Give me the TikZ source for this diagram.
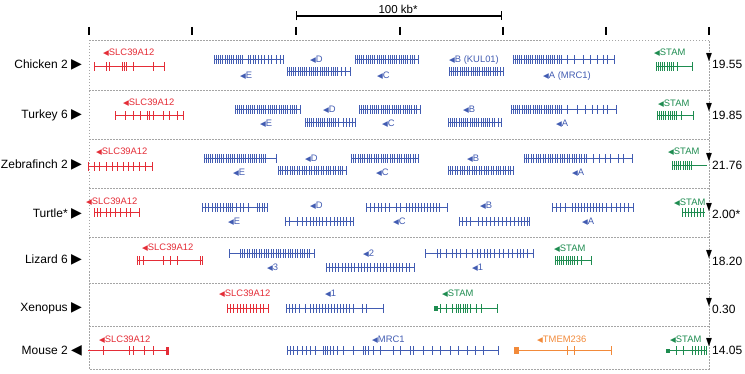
\documentclass[tikz,border=0pt]{standalone}
\usepackage{fontspec}
\setmainfont{Liberation Sans}
\newfontfamily\symf{DejaVu Sans}
\usetikzlibrary{arrows.meta,positioning}
\definecolor{genered}{RGB}{228,45,55}
\definecolor{geneblue}{RGB}{66,92,178}
\definecolor{genegreen}{RGB}{30,140,80}
\definecolor{geneorange}{RGB}{242,138,58}
\definecolor{boxgray}{RGB}{165,165,165}

% one gene: style, y, start, end, exon positions
\newcommand{\genebar}[5]{%
  \draw[#1] (#3,#2) -- (#4,#2);
  \draw[#1,exon] \foreach \ex in {#5} {(\ex,#2-4.5) -- (\ex,#2+4.5)};}
\newcommand{\lt}{{\symf\fontsize{7.5}{7.5}\selectfont◀}}
\newcommand{\rt}{{\symf\fontsize{14}{14}\selectfont▶}}

\begin{document}
\begin{tikzpicture}[x=1pt,y=-1pt,
  species/.style={font=\fontsize{12}{14}\selectfont,anchor=east,inner sep=0pt},
  glabel/.style={font=\fontsize{9.4}{10}\selectfont,anchor=west,inner sep=0pt},
  chrnum/.style={font=\fontsize{12}{14}\selectfont,anchor=west,inner sep=0pt},
  downtri/.style={font=\symf\fontsize{11}{11}\selectfont,inner sep=0pt,xscale=0.7},
  slc/.style={genered,line width=1pt},
  blu/.style={geneblue,line width=1pt},
  grn/.style={genegreen,line width=1pt},
  org/.style={geneorange,line width=1pt},
  exon/.style={line width=0.7pt},
  sep/.style={boxgray,line width=0.6pt,dash pattern=on 1.5pt off 1.5pt}]
\useasboundingbox (0,0) rectangle (745,374);

% ruler and scale bar
\foreach \xx in {89,192,296,400,503,606,709} \draw[line width=1.4pt] (\xx,27) -- (\xx,35);
\coordinate (kbL) at (296,16);
\coordinate (kbR) at (502,16);
\draw[line width=1.1pt,{Bar[width=9pt]}-{Bar[width=9pt]}] (kbL) -- (kbR);
\node[font=\fontsize{11.5}{13}\selectfont,inner sep=0pt] (kb) at (398,9) {100 kb*};

% frame
\draw[sep] (89,40) rectangle (709,369);
\foreach \yy in {90,139,188,237,283,326} \draw[sep] (89,\yy) -- (709,\yy);

% species
\node[species] (chicken) at (82,65) {Chicken 2 \rt};
\node[species] (turkey) at (82,115) {Turkey 6 \rt};
\node[species] (zfinch) at (82,165) {Zebrafinch 2 \rt};
\node[species] (turtle) at (82,214) {Turtle* \rt};
\node[species] (lizard) at (82,260) {Lizard 6 \rt};
\node[species] (xenopus) at (82,308) {Xenopus \rt};
\node[species] (mouse) at (82,351) {Mouse 2 {\symf\fontsize{14}{14}\selectfont◀}};

% chromosome positions
\node[downtri] (t1) at (709,58) {▼}; \node[chrnum] (n1) at (712,64) {19.55};
\node[downtri] (t2) at (709,108) {▼}; \node[chrnum] (n2) at (712,115) {19.85};
\node[downtri] (t3) at (709,158) {▼}; \node[chrnum] (n3) at (712,165) {21.76};
\node[downtri] (t4) at (709,208) {▼}; \node[chrnum] (n4) at (712,214) {2.00*};
\node[downtri] (t5) at (709,255) {▼}; \node[chrnum] (n5) at (712,261) {18.20};
\node[downtri] (t6) at (709,303) {▼}; \node[chrnum] (n6) at (712,309) {0.30};
\node[downtri] (t7) at (709,343) {▼}; \node[chrnum] (n7) at (712,350) {14.05};

% chicken
\genebar{slc}{67}{94}{164}{94,106,109,122,124.3,126.6,133,153,164}
\genebar{blu}{60}{214}{283}{214,216.2,...,244,248,250,253,255,258,261,264,268,271,276,280,283}
\genebar{blu}{72}{287}{350}{287,289.2,...,338,341,345,350}
\genebar{blu}{60}{355}{418}{355,357.2,...,416,418}
\genebar{blu}{72}{449}{503}{449,451.2,...,498,500,503}
\genebar{blu}{60}{513}{614}{513,515.2,...,562,567,574,583,590,597,603,607,614}
\genebar{grn}{67}{656}{692}{656,658.2,...,674,677,692}
\node[glabel,genered] (c-slc) at (103,53) {\lt SLC39A12};
\node[glabel,geneblue] (c-e) at (240,76) {\lt E};
\node[glabel,geneblue] (c-d) at (310,60) {\lt D};
\node[glabel,geneblue] (c-c) at (377,76) {\lt C};
\node[glabel,geneblue] (c-b) at (449,60) {\lt B (KUL01)};
\node[glabel,geneblue] (c-a) at (543,76) {\lt A (MRC1)};
\node[glabel,genegreen] (c-stam) at (654,53) {\lt STAM};

% turkey
\genebar{slc}{116}{115}{183}{115,125,133,140,147,149.5,153,163,169,177,183}
\genebar{blu}{110}{235}{300}{235,237.2,...,298,300}
\genebar{blu}{123}{305}{355}{305,307.2,...,340,343,346,349,352,355}
\genebar{blu}{110}{359}{420}{359,361.2,...,418,420}
\genebar{blu}{123}{448}{501}{448,450.2,...,496,498,501}
\genebar{blu}{110}{511}{616}{511,513.2,...,562,567,577,585,592,597,603,607,616}
\genebar{grn}{116}{657}{693}{657,659.2,...,678,681,693}
\node[glabel,genered] (t-slc) at (123,103) {\lt SLC39A12};
\node[glabel,geneblue] (t-e) at (260,124) {\lt E};
\node[glabel,geneblue] (t-d) at (323,110) {\lt D};
\node[glabel,geneblue] (t-c) at (382,124) {\lt C};
\node[glabel,geneblue] (t-b) at (463,110) {\lt B};
\node[glabel,geneblue] (t-a) at (556,124) {\lt A};
\node[glabel,genegreen] (t-stam) at (658,104) {\lt STAM};

% zebrafinch
\genebar{slc}{167}{88}{152}{88,94,99,106,112,117,123,128,133,139,145,152}
\genebar{blu}{159}{204}{276}{204,206.2,...,266,276}
\genebar{blu}{171}{278}{346}{278,280.4,...,344,346}
\genebar{blu}{159}{351}{418}{351,353.3,...,416,418}
\genebar{blu}{171}{448}{513}{448,450.4,...,511,513}
\genebar{blu}{159}{524}{632}{524,526.4,...,587,593,599,605,610,618,623,632}
\genebar{grn}{166}{672}{707}{672,674.2,...,692}
\node[glabel,genered] (z-slc) at (96,152) {\lt SLC39A12};
\node[glabel,geneblue] (z-e) at (233,173) {\lt E};
\node[glabel,geneblue] (z-d) at (305,159) {\lt D};
\node[glabel,geneblue] (z-c) at (376,173) {\lt C};
\node[glabel,geneblue] (z-b) at (467,159) {\lt B};
\node[glabel,geneblue] (z-a) at (572,173) {\lt A};
\node[glabel,genegreen] (z-stam) at (668,152) {\lt STAM};

% turtle
\genebar{slc}{213}{94}{139}{94,97,100,106,110,115,120,126,130,139}
\genebar{blu}{208}{202}{267}{202,205,208,212,215,217,220,223,226,228,230,232,236,240,243,248,257,259.5,262,264.5,267}
\genebar{blu}{222}{285}{353}{285,289,297,302,306,310,313,316,319,322,326,330,334,337,340,343,346,350,353}
\genebar{blu}{208}{366}{447}{366,370,374,378,381,385,389,396,400,406,409,412,415,418,421,424,427,430,433,436,439,447}
\genebar{blu}{222}{459}{529}{459,462,466,470,478,482,486,490,494,498,502,506,510,514,518,521,524,527,529}
\genebar{blu}{208}{552}{633}{552,556,560,565,572,575,578,581,584,587,590,593,596,599,602,606,611,616,620,624,628,633}
\genebar{grn}{213}{682}{705}{682,685,688,691,694,697,700,703}
\node[glabel,genered] (u-slc) at (86,202) {\lt SLC39A12};
\node[glabel,geneblue] (u-e) at (228,222) {\lt E};
\node[glabel,geneblue] (u-d) at (310,206) {\lt D};
\node[glabel,geneblue] (u-c) at (393,222) {\lt C};
\node[glabel,geneblue] (u-b) at (480,206) {\lt B};
\node[glabel,geneblue] (u-a) at (582,222) {\lt A};
\node[glabel,genegreen] (u-stam) at (674,203) {\lt STAM};

% lizard
\genebar{slc}{261}{137}{202}{137,139,143,163,170,177,200,202}
\genebar{blu}{254}{229}{314}{229,240,242.4,...,310,314}
\genebar{blu}{268}{326}{414}{326,329.2,...,410,414}
\genebar{blu}{254}{425}{533}{425,437,440,446,452,456,460,466,472,477,480,484,487,490,494,499,503,508,512,517,520,523,527,533}
\genebar{grn}{261}{555}{591}{555,557.2,...,575,577,581,591}
\node[glabel,genered] (l-slc) at (142,248) {\lt SLC39A12};
\node[glabel,geneblue] (l-3) at (267,268) {\lt 3};
\node[glabel,geneblue] (l-2) at (363,254) {\lt 2};
\node[glabel,geneblue] (l-1) at (472,268) {\lt 1};
\node[glabel,genegreen] (l-stam) at (554,249) {\lt STAM};

% xenopus
\genebar{slc}{309}{227}{268}{227,230.3,...,264,268}
\genebar{blu}{309}{286}{383}{286,289,292,295,299,305,310,313,316,319,322,325,328,331,334,337,340,343,346,349,353,362,366,383}
\genebar{grn}{309}{434}{497}{440,446,452,456,458.3,460.6,462.9,465.2,467.5,470,476,481,497}
\fill[genegreen] (434,306.5) rectangle (438,311.5);
\node[glabel,genered] (x-slc) at (219,294) {\lt SLC39A12};
\node[glabel,geneblue] (x-1) at (325,294) {\lt 1};
\node[glabel,genegreen] (x-stam) at (442,294) {\lt STAM};

% mouse
\genebar{slc}{351}{88}{169}{103,129,133,144,153}
\fill[genered] (166,347) rectangle (169,355);
\genebar{blu}{351}{287}{498}{287,290,293,297,302,306,310,315,323,325,327,330,333,337,343,353,363,365,368,373,380,393,400,410,413,423,432,440,450,458,467,475,483,498}
\genebar{org}{351}{514}{611}{567,574,611}
\fill[geneorange] (514,347.5) rectangle (519,354.5);
\genebar{grn}{351}{666}{706}{676,683,692,695,698,701,704,706}
\fill[genegreen] (666,349) rectangle (670,353);
\node[glabel,genered] (m-slc) at (99,340) {\lt SLC39A12};
\node[glabel,geneblue] (m-mrc1) at (372,340) {\lt MRC1};
\node[glabel,geneorange] (m-tmem) at (537,340) {\lt TMEM236};
\node[glabel,genegreen] (m-stam) at (670,340) {\lt STAM};
\end{tikzpicture}
\end{document}
